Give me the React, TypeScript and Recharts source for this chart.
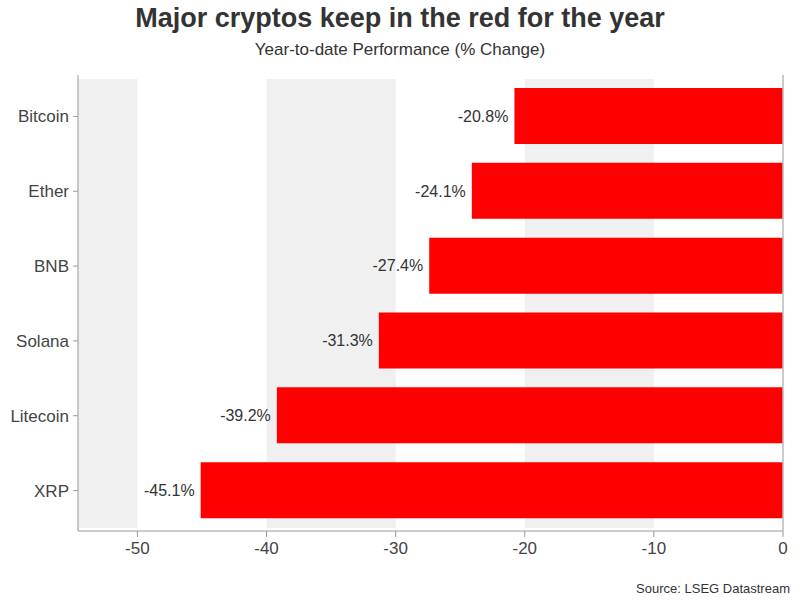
import React from "react";
import {
  BarChart,
  Bar,
  XAxis,
  YAxis,
  ReferenceArea,
  ReferenceLine,
  LabelList,
} from "recharts";

const coins = ["Bitcoin", "Ether", "BNB", "Solana", "Litecoin", "XRP"];
const ytdChange = [-20.8, -24.1, -27.4, -31.3, -39.2, -45.1];
const xTicks = [-50, -40, -30, -20, -10, 0];
const shadedBands: [number, number][] = [
  [-54.6, -50],
  [-40, -30],
  [-20, -10],
];

const data = coins.map((name, i) => ({ name, value: ytdChange[i] }));

const FONT = "'Liberation Sans', Arial, sans-serif";

export default function App() {
  return (
    <div
      style={{
        position: "absolute",
        left: 0,
        top: 0,
        width: 800,
        height: 600,
        background: "#fff",
        fontFamily: FONT,
      }}
    >
      <div
        style={{
          position: "absolute",
          top: 3,
          left: 0,
          width: 800,
          textAlign: "center",
          fontSize: 27,
          fontWeight: "bold",
          color: "#333",
        }}
      >
        Major cryptos keep in the red for the year
      </div>
      <div
        style={{
          position: "absolute",
          top: 40,
          left: 0,
          width: 800,
          textAlign: "center",
          fontSize: 17,
          color: "#333",
        }}
      >
        Year-to-date Performance (% Change)
      </div>
      <div
        style={{
          position: "absolute",
          top: 581,
          right: 10,
          fontSize: 13,
          color: "#333",
        }}
      >
        Source: LSEG Datastream
      </div>
      <div style={{ position: "absolute", left: 0, top: 0 }}>
        <BarChart
          width={800}
          height={600}
          data={data}
          layout="vertical"
          margin={{ top: 75, right: 17, bottom: 39, left: 8 }}
        >
          {shadedBands.map(([a, b], i) => (
            <ReferenceArea
              key={i}
              x1={a}
              x2={b}
              fill="#f0f0f0"
              fillOpacity={1}
              stroke="none"
              ifOverflow="visible"
            />
          ))}
          <XAxis
            type="number"
            domain={[-54.6, 0]}
            ticks={xTicks}
            allowDataOverflow
            height={30}
            stroke="#999"
            tick={{ fill: "#444", fontSize: 17, fontFamily: FONT }}
            tickSize={6}
            tickMargin={5}
          />
          <YAxis
            type="category"
            dataKey="name"
            width={70}
            padding={{ top: 4, bottom: 3 }}
            stroke="#999"
            tick={{ fill: "#444", fontSize: 17, fontFamily: FONT }}
            tickSize={5}
            tickMargin={4}
          />
          <ReferenceLine x={0} stroke="#bbb" strokeWidth={1.5} />
          <Bar
            dataKey="value"
            fill="#ff0000"
            barSize={56}
            isAnimationActive={false}
          >
            <LabelList
              dataKey="value"
              position="right"
              offset={6}
              formatter={(v: any) => `${v}%`}
              style={{ fill: "#333", fontSize: 16, fontFamily: FONT }}
            />
          </Bar>
        </BarChart>
      </div>
    </div>
  );
}
